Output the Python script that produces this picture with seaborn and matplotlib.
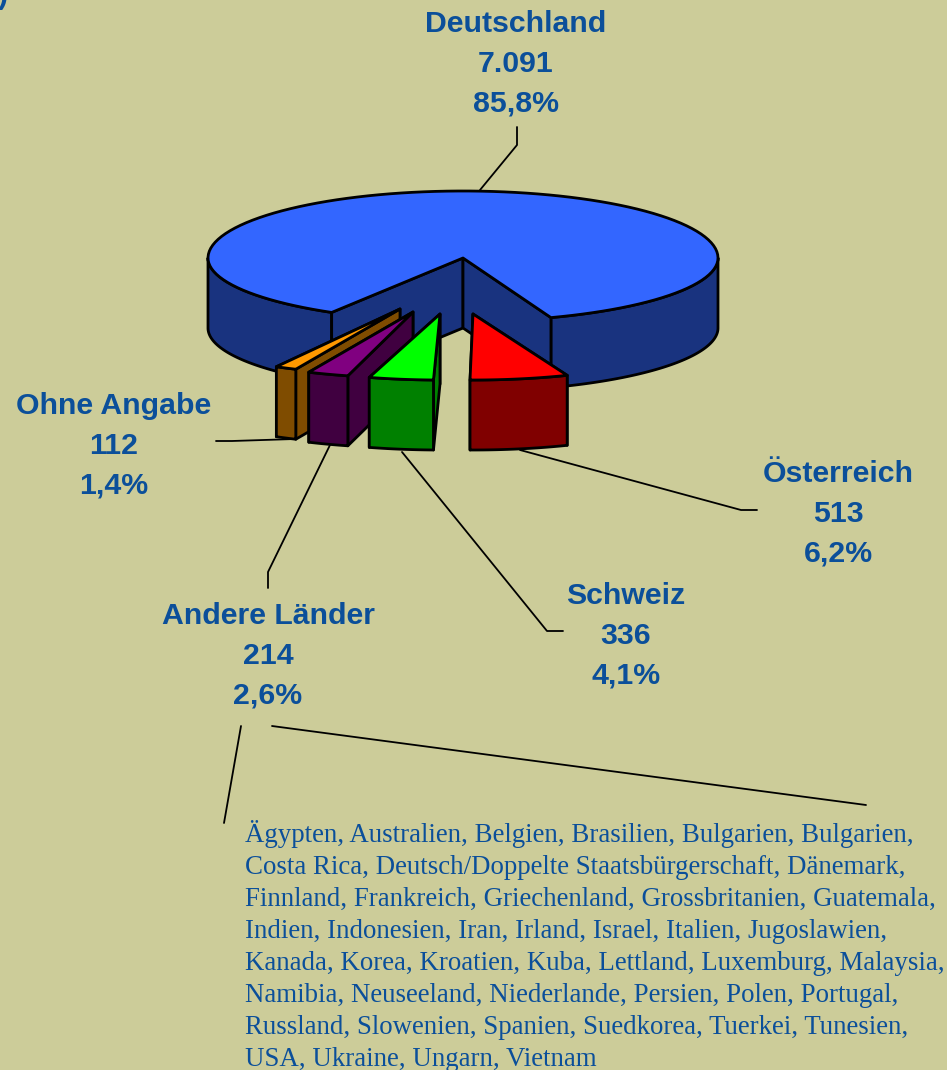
import numpy as np
import matplotlib
matplotlib.use("Agg")
import matplotlib.pyplot as plt
from matplotlib.patches import Polygon
import seaborn as sns

# ── Data ─────────────────────────────────────────────
countries = ["Deutschland", "Österreich", "Schweiz", "Andere Länder", "Ohne Angabe"]
counts = [7091, 513, 336, 214, 112]
count_labels = ["7.091", "513", "336", "214", "112"]
pct_labels = ["85,8%", "6,2%", "4,1%", "2,6%", "1,4%"]
other_countries = [
    "Ägypten, Australien, Belgien, Brasilien, Bulgarien, Bulgarien,",
    "Costa Rica, Deutsch/Doppelte Staatsbürgerschaft, Dänemark,",
    "Finnland, Frankreich, Griechenland, Grossbritanien, Guatemala,",
    "Indien, Indonesien, Iran, Irland, Israel, Italien, Jugoslawien,",
    "Kanada, Korea, Kroatien, Kuba, Lettland, Luxemburg, Malaysia,",
    "Namibia, Neuseeland, Niederlande, Persien, Polen, Portugal,",
    "Russland, Slowenien, Spanien, Suedkorea, Tuerkei, Tunesien,",
    "USA, Ukraine, Ungarn, Vietnam",
]

# ── Style ────────────────────────────────────────────
BG = "#CCCC99"
TEXT = "#0B4F9A"
TOPS = ["#3366FF", "#FF0000", "#00FF00", "#800080", "#FF9900"]
SIDES = ["#19337F", "#800000", "#008000", "#400040", "#7F4C00"]

sns.set_theme(style="white", rc={"figure.facecolor": BG, "axes.facecolor": BG})
plt.rcParams["font.family"] = ["Liberation Sans", "DejaVu Sans"]

CX, CY = 463, 258
RX, RY_BACK, RY_FRONT = 255, 67, 63.5
DEPTH = 70
START = 211          # clockwise from 12 o'clock, Deutschland starts here
# (dx, dy) of the pulled out slices in pixels, and their small extra turn in degrees
OFFSETS = [(0, 0), (10, 56), (-23, 56), (-50, 54), (-63, 51)]
TURNS = [0, 1.5, 0.7, 2.0, 2.0]

fig = plt.figure(figsize=(9.47, 10.7), dpi=100)
ax = fig.add_axes([0, 0, 1, 1])
ax.set_xlim(0, 947)
ax.set_ylim(1070, 0)
ax.axis("off")


def rim(t0, t1, cx, cy, rx=RX, back=RY_BACK, front=RY_FRONT):
    t = np.radians(np.linspace(t0, t1, 120))
    c = np.cos(t)
    return np.column_stack([cx + rx * np.sin(t), cy - np.where(c > 0, back, front) * c])


def face(pts, color, z):
    ax.add_patch(Polygon(pts, closed=True, fc=color, ec="black", lw=2, joinstyle="round", zorder=z))


def drop(pts):
    return pts + np.array([0, DEPTH])


# slice angles from the values
sweeps = np.array(counts) / sum(counts) * 360
starts = START + np.concatenate([[0], np.cumsum(sweeps)[:-1]])

# ── Big slice ────────────────────────────────────────
a0, a1 = starts[0], starts[0] + sweeps[0]
top = rim(a0, a1, CX, CY)
centre = np.array([CX, CY])
for part in (rim(a0, 270, CX, CY), rim(450, a1, CX, CY)):
    face(np.vstack([part, drop(part)[::-1]]), SIDES[0], 2)
for corner in (top[0], top[-1]):
    face([centre, corner, corner + [0, DEPTH], centre + [0, DEPTH]], SIDES[0], 2)
face(np.vstack([top, centre]), TOPS[0], 3)

# ── Pulled out slices, back to front ─────────────────
for i, z in zip([4, 3, 2, 1], [5, 6, 7, 8]):
    px, py = CX + OFFSETS[i][0], CY + OFFSETS[i][1]
    t0 = starts[i] - TURNS[i]
    arc = rim(t0, t0 + sweeps[i], px, py, rx=255, front=66, back=66)
    apex = np.array([px, py])
    for corner in (arc[-1], arc[0]):
        face([apex, corner, corner + [0, DEPTH], apex + [0, DEPTH]], SIDES[i], z)
    face(np.vstack([arc, drop(arc)[::-1]]), SIDES[i], z)
    face(np.vstack([arc, apex]), TOPS[i], z)

# ── Labels ───────────────────────────────────────────
label_pos = [(516, 32), (838, 482), (626, 604), (268, 624), (114, 414)]
for (x, y), name, n, pct in zip(label_pos, countries, count_labels, pct_labels):
    for k, s in enumerate([name, n, pct]):
        ax.text(x, y + k * 40, s, ha="center", va="baseline", color=TEXT,
                fontsize=21.8, fontweight="bold", zorder=10)

# leader lines
leaders = [
    [(517, 127), (517, 145), (480, 190)],
    [(757, 510), (741, 510), (520, 450)],
    [(563, 631), (547, 631), (402, 452)],
    [(268, 588), (268, 572), (330, 445)],
    [(216, 441), (232, 441), (295, 439)],
    [(241, 726), (224, 823)],
    [(272, 726), (866, 805)],
]
for pts in leaders:
    xs, ys = zip(*pts)
    ax.plot(xs, ys, color="black", lw=1.3, zorder=4)

for k, line in enumerate(other_countries):
    ax.text(245, 842 + k * 32, line, ha="left", va="baseline", color=TEXT,
            fontsize=19.4, family=["Liberation Serif", "DejaVu Serif"], zorder=10)

# clipped bracket in the top left corner
ax.text(-2, -4, ")", ha="left", va="center", color=TEXT, fontsize=21.8, fontweight="bold",
        clip_on=True)

fig.savefig("out.png", dpi=100, facecolor=BG)
